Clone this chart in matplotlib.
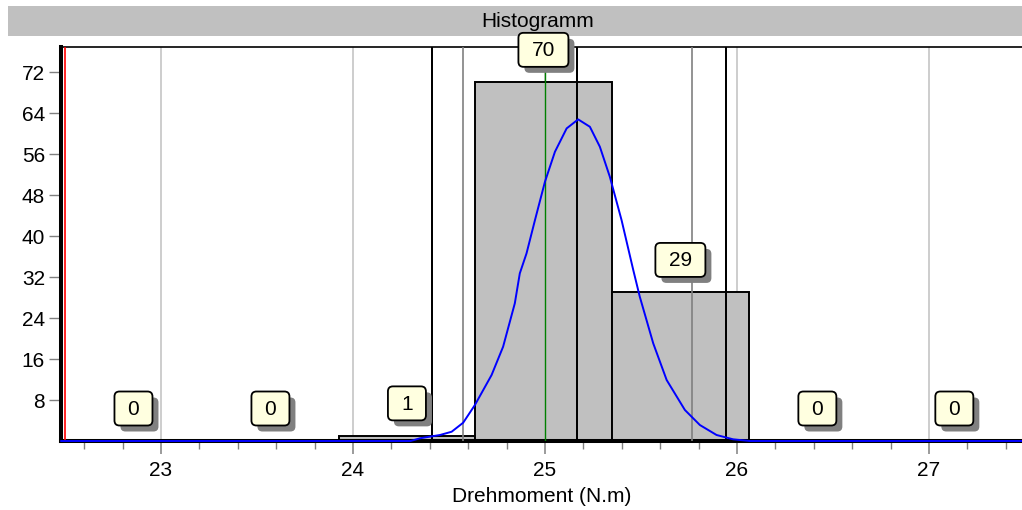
import matplotlib
matplotlib.use("Agg")
import matplotlib.pyplot as plt
import matplotlib.transforms as mtransforms
from matplotlib.patches import Rectangle, FancyBboxPatch
from matplotlib.ticker import MultipleLocator

plt.rcParams["font.family"] = ["Liberation Sans", "DejaVu Sans"]

# histogram data
bin_edges = [22.500, 23.213, 23.927, 24.635, 25.349, 26.062, 26.776, 27.489]
counts = [0, 0, 1, 70, 29, 0, 0]

# fitted curve
curve_x = [22.48, 24.30, 24.349, 24.453, 24.514, 24.574, 24.635, 24.722, 24.782,
           24.843, 24.869, 24.904, 24.948, 25.000, 25.052, 25.113, 25.173,
           25.234, 25.286, 25.338, 25.399, 25.460, 25.494, 25.564, 25.634,
           25.729, 25.807, 25.894, 25.980, 26.067, 27.49]
curve_y = [0, 0, 0.53, 1.17, 1.81, 3.57, 7.02, 12.88, 18.40, 26.87, 32.72,
           36.62, 43.12, 50.60, 56.45, 61.01, 62.77, 61.33, 57.43, 51.57,
           43.12, 33.37, 28.16, 19.06, 11.90, 6.05, 3.12, 1.17, 0.33, 0, 0]

# reference lines
lsl_line = 22.5
black_lines = [24.411, 25.166, 25.942]
gray_lines = [24.573, 25.765]
nominal_line = 25.0

W, H = 1022, 510
fig = plt.figure(figsize=(W / 100, H / 100 + 1e-4), dpi=100)

# title bar
fig.patches.append(Rectangle((8 / W, 1 - 36 / H), 1 - 8 / W, 30 / H,
                             transform=fig.transFigure, facecolor="#c0c0c0",
                             edgecolor="none", zorder=-2))
fig.text(538 / W, 1 - 21 / H, "Histogramm", ha="center", va="center",
         fontsize=15, zorder=-1)

ax = fig.add_axes([61 / W, (H - 441) / H, (W - 61) / W, (441 - 47) / H])
ax.set_xlim(22.479, 27.485)
ax.set_ylim(0, 76.9)

# grid at major x ticks
for gx in range(23, 28):
    ax.axvline(gx, color="#c0c0c0", lw=1.1, zorder=1)

widths = [b - a for a, b in zip(bin_edges[:-1], bin_edges[1:])]
ax.bar(bin_edges[:-1], counts, width=widths, align="edge", color="#c0c0c0",
       edgecolor="black", linewidth=1.4, zorder=2)

ax.axvline(lsl_line, color="red", lw=1.2, zorder=3)
for v in black_lines:
    ax.axvline(v, color="black", lw=1.44, zorder=3)
for v in gray_lines:
    ax.axvline(v, color="#808080", lw=1.2, zorder=3)
ax.axvline(nominal_line, color="#008000", lw=1.0, zorder=3)

ax.plot(curve_x, curve_y, color="#0000ff", lw=1.4, zorder=4, clip_on=False)

# count labels: rounded box with drop shadow, sized in inches above the bar top
for a, b, c in zip(bin_edges[:-1], bin_edges[1:], counts):
    cx = (a + b) / 2
    bw = 0.26 + 0.12 * len(str(c))
    bh = 0.34
    oy = 0.325
    trans = fig.dpi_scale_trans + mtransforms.ScaledTranslation(cx, c, ax.transData)
    shadow = FancyBboxPatch((-bw / 2 + 0.06, oy - bh / 2 - 0.06), bw, bh,
                            boxstyle="round,pad=0,rounding_size=0.05",
                            transform=trans, facecolor="#808080",
                            edgecolor="none", zorder=5, clip_on=False)
    box = FancyBboxPatch((-bw / 2, oy - bh / 2), bw, bh,
                         boxstyle="round,pad=0,rounding_size=0.05",
                         transform=trans, facecolor="#ffffe0",
                         edgecolor="black", lw=1.3, zorder=6, clip_on=False)
    ax.add_patch(shadow)
    ax.add_patch(box)
    ax.annotate(str(c), xy=(cx, c), xytext=(0, oy * 72 - 0.5), textcoords="offset points",
                ha="center", va="center", fontsize=15, color="black", zorder=7)

ax.spines["right"].set_visible(False)
ax.spines["top"].set_linewidth(1.2)
ax.spines["left"].set_linewidth(2.9)
ax.spines["bottom"].set_linewidth(2.9)

ax.set_yticks(range(8, 73, 8))
ax.xaxis.set_major_locator(MultipleLocator(1))
ax.xaxis.set_minor_locator(MultipleLocator(0.2))
ax.tick_params(axis="y", length=8.5, width=1, color="#808080", labelsize=15, pad=3)
ax.tick_params(axis="x", which="major", length=9.5, width=1.1, color="#808080",
               labelsize=15, pad=5)
ax.tick_params(axis="x", which="minor", length=6, width=1, color="#808080")

ax.set_xlabel("Drehmoment (N.m)", fontsize=15, labelpad=5)

fig.savefig("out.png", dpi=100)
